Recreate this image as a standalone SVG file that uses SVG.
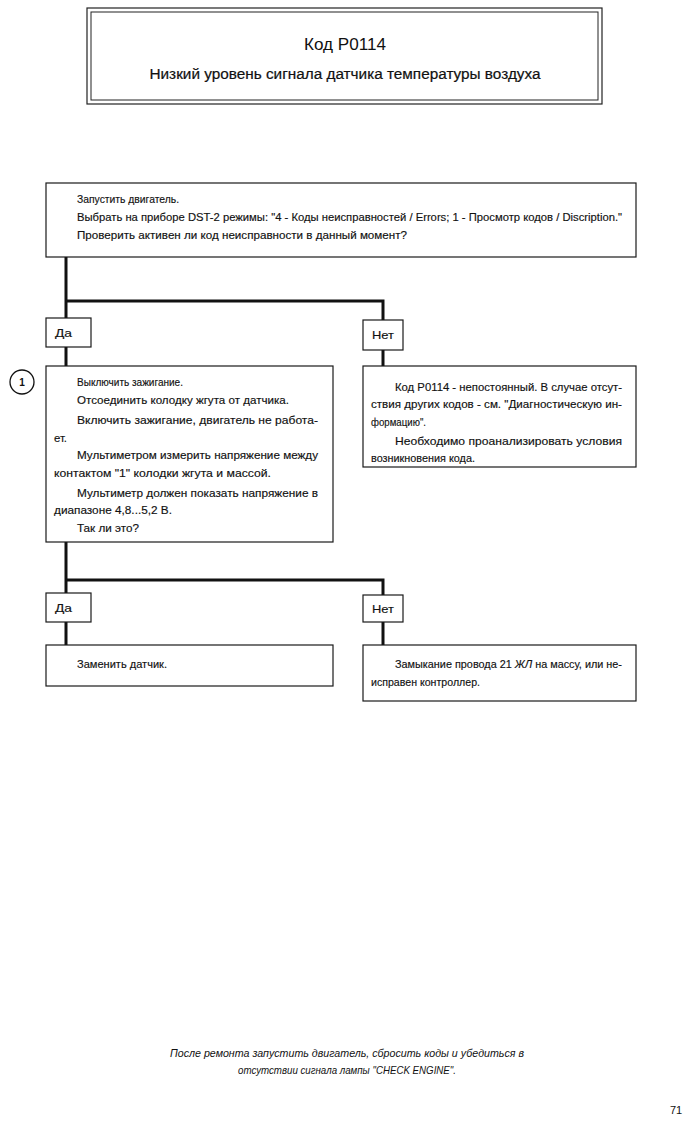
<svg xmlns="http://www.w3.org/2000/svg" width="697" height="1130" viewBox="0 0 697 1130">
<style>
.box{fill:#fff;stroke:#1a1a1a;stroke-width:1.2}
.lbl{fill:#fff;stroke:#1a1a1a;stroke-width:1.2}
.conn{fill:none;stroke:#111;stroke-width:3}
.t{font-family:"Liberation Sans",Arial,sans-serif;font-size:11px;fill:#111;stroke:#111;stroke-width:0.15}
.ft{font-family:"Liberation Sans",Arial,sans-serif;font-size:10.5px;font-style:italic;fill:#111}
</style>
<rect width="697" height="1130" fill="#fff"/>
<g id="header">
<rect x="87" y="8" width="515" height="96" fill="none" stroke="#222" stroke-width="1.2"/>
<rect x="91" y="12" width="507" height="88" fill="none" stroke="#222" stroke-width="1"/>
<text x="345" y="50" text-anchor="middle" font-family="Liberation Sans,Arial,sans-serif" font-size="17" fill="#111" textLength="82" lengthAdjust="spacingAndGlyphs">Код P0114</text>
<text x="345" y="79" text-anchor="middle" font-family="Liberation Sans,Arial,sans-serif" font-size="14" fill="#111" stroke="#111" stroke-width="0.2" textLength="391" lengthAdjust="spacingAndGlyphs">Низкий уровень сигнала датчика температуры воздуха</text>
</g>
<g id="connectors">
<path class="conn" d="M66 257 V366 M66 301 H383 V366"/>
<path class="conn" d="M66 542 V645 M66 580 H383 V645"/>
</g>
<g id="step1">
<rect class="box" x="46" y="183" width="590" height="74"/>
<text class="t" x="77" y="203" textLength="102" lengthAdjust="spacingAndGlyphs">Запустить двигатель.</text>
<text class="t" x="77" y="221" textLength="545" lengthAdjust="spacingAndGlyphs">Выбрать на приборе DST-2 режимы: "4 - Коды неисправностей / Errors; 1 - Просмотр кодов / Discription."</text>
<text class="t" x="77" y="239" textLength="330" lengthAdjust="spacingAndGlyphs">Проверить активен ли код неисправности в данный момент?</text>
</g>
<g id="yes1">
<rect class="lbl" x="46" y="318" width="45" height="29"/>
<text class="t" x="55" y="337" textLength="17" lengthAdjust="spacingAndGlyphs">Да</text>
</g>
<g id="no1">
<rect class="lbl" x="363" y="320" width="40" height="30"/>
<text class="t" x="372" y="339" textLength="22" lengthAdjust="spacingAndGlyphs">Нет</text>
</g>
<g id="marker1">
<circle cx="22" cy="382" r="12" fill="#fff" stroke="#111" stroke-width="1.3"/>
<text x="22" y="386" text-anchor="middle" font-family="Liberation Sans,Arial,sans-serif" font-size="10" font-weight="bold" fill="#111">1</text>
</g>
<g id="step2">
<rect class="box" x="46" y="366" width="287" height="176"/>
<text class="t" x="77" y="386" textLength="106" lengthAdjust="spacingAndGlyphs">Выключить зажигание.</text>
<text class="t" x="77" y="404" textLength="212" lengthAdjust="spacingAndGlyphs">Отсоединить колодку жгута от датчика.</text>
<text class="t" x="77" y="424" textLength="241" lengthAdjust="spacingAndGlyphs">Включить зажигание, двигатель не работа-</text>
<text class="t" x="54" y="442" textLength="13" lengthAdjust="spacingAndGlyphs">ет.</text>
<text class="t" x="77" y="459" textLength="241" lengthAdjust="spacingAndGlyphs">Мультиметром измерить напряжение между</text>
<text class="t" x="54" y="477" textLength="217" lengthAdjust="spacingAndGlyphs">контактом "1" колодки жгута и массой.</text>
<text class="t" x="77" y="497" textLength="241" lengthAdjust="spacingAndGlyphs">Мультиметр должен показать напряжение в</text>
<text class="t" x="54" y="514" textLength="118" lengthAdjust="spacingAndGlyphs">диапазоне 4,8...5,2 В.</text>
<text class="t" x="77" y="532" textLength="62" lengthAdjust="spacingAndGlyphs">Так ли это?</text>
</g>
<g id="step3">
<rect class="box" x="363" y="366" width="273" height="101"/>
<text class="t" x="395" y="391" textLength="227" lengthAdjust="spacingAndGlyphs">Код P0114 - непостоянный. В случае отсут-</text>
<text class="t" x="371" y="408" textLength="251" lengthAdjust="spacingAndGlyphs">ствия других кодов - см. "Диагностическую ин-</text>
<text class="t" x="371" y="426" textLength="55" lengthAdjust="spacingAndGlyphs">формацию".</text>
<text class="t" x="395" y="445" textLength="227" lengthAdjust="spacingAndGlyphs">Необходимо проанализировать условия</text>
<text class="t" x="371" y="462" textLength="104" lengthAdjust="spacingAndGlyphs">возникновения кода.</text>
</g>
<g id="yes2">
<rect class="lbl" x="46" y="593" width="45" height="29"/>
<text class="t" x="55" y="612" textLength="17" lengthAdjust="spacingAndGlyphs">Да</text>
</g>
<g id="no2">
<rect class="lbl" x="363" y="595" width="40" height="27"/>
<text class="t" x="372" y="613" textLength="22" lengthAdjust="spacingAndGlyphs">Нет</text>
</g>
<g id="step4">
<rect class="box" x="46" y="645" width="287" height="41"/>
<text class="t" x="77" y="668" textLength="90" lengthAdjust="spacingAndGlyphs">Заменить датчик.</text>
</g>
<g id="step5">
<rect class="box" x="363" y="645" width="273" height="56"/>
<text class="t" x="395" y="668" textLength="227" lengthAdjust="spacingAndGlyphs">Замыкание провода 21 <tspan font-style="italic">ЖЛ</tspan> на массу, или не-</text>
<text class="t" x="371" y="686" textLength="109" lengthAdjust="spacingAndGlyphs">исправен контроллер.</text>
</g>
<g id="footer">
<text class="ft" x="347" y="1057" text-anchor="middle" textLength="354" lengthAdjust="spacingAndGlyphs">После ремонта запустить двигатель, сбросить коды и убедиться в</text>
<text class="ft" x="347" y="1074" text-anchor="middle" textLength="218" lengthAdjust="spacingAndGlyphs">отсутствии сигнала лампы "CHECK ENGINE".</text>
<text x="676" y="1114" text-anchor="middle" font-family="Liberation Sans,Arial,sans-serif" font-size="11" fill="#111">71</text>
</g>
</svg>
